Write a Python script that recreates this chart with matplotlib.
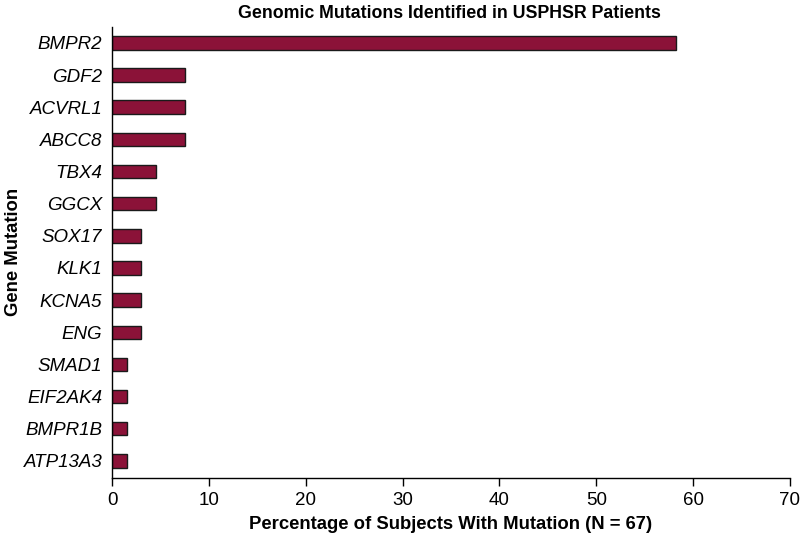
import matplotlib
matplotlib.use("Agg")
import matplotlib.pyplot as plt

plt.rcParams['font.family'] = ['Liberation Sans', 'DejaVu Sans']

# genes listed top to bottom as in the figure
genes = ["BMPR2", "GDF2", "ACVRL1", "ABCC8", "TBX4", "GGCX", "SOX17",
         "KLK1", "KCNA5", "ENG", "SMAD1", "EIF2AK4", "BMPR1B", "ATP13A3"]
percent = [58.2, 7.5, 7.5, 7.5, 4.5, 4.5, 3.0, 3.0, 3.0, 3.0, 1.5, 1.5, 1.5, 1.5]
xticks = [0, 10, 20, 30, 40, 50, 60, 70]

fig = plt.figure(figsize=(8.0, 5.37), dpi=100)
ax = fig.add_axes([0.14, 0.11, 0.8475, 0.84])

pos = list(range(len(genes)))
ax.barh(pos, percent, height=0.42, color="#8B1238", edgecolor="#1a1a1a", linewidth=1.0)

ax.set_yticks(pos)
ax.set_yticklabels(genes, fontstyle="italic", fontsize=13.5)
ax.set_ylim(len(genes) - 0.47, -0.5)
ax.tick_params(axis="y", length=0, pad=7)

ax.set_xlim(0, 70)
ax.set_xticks(xticks)
ax.tick_params(axis="x", labelsize=13.5, direction="out", length=6, width=1, pad=4)

for s in ["top", "right"]:
    ax.spines[s].set_visible(False)
for s in ["left", "bottom"]:
    ax.spines[s].set_linewidth(1.0)

ax.set_xlabel("Percentage of Subjects With Mutation (N = 67)", fontsize=13.3, fontweight="bold", labelpad=5)
ax.set_ylabel("Gene Mutation", fontsize=13.3, fontweight="bold")
ax.yaxis.set_label_coords(-0.133, 0.5)
fig.text(0.562, 0.99, "Genomic Mutations Identified in USPHSR Patients", ha="center", va="top",
         fontsize=12.8, fontweight="bold")

fig.savefig("out.png", dpi=100)
